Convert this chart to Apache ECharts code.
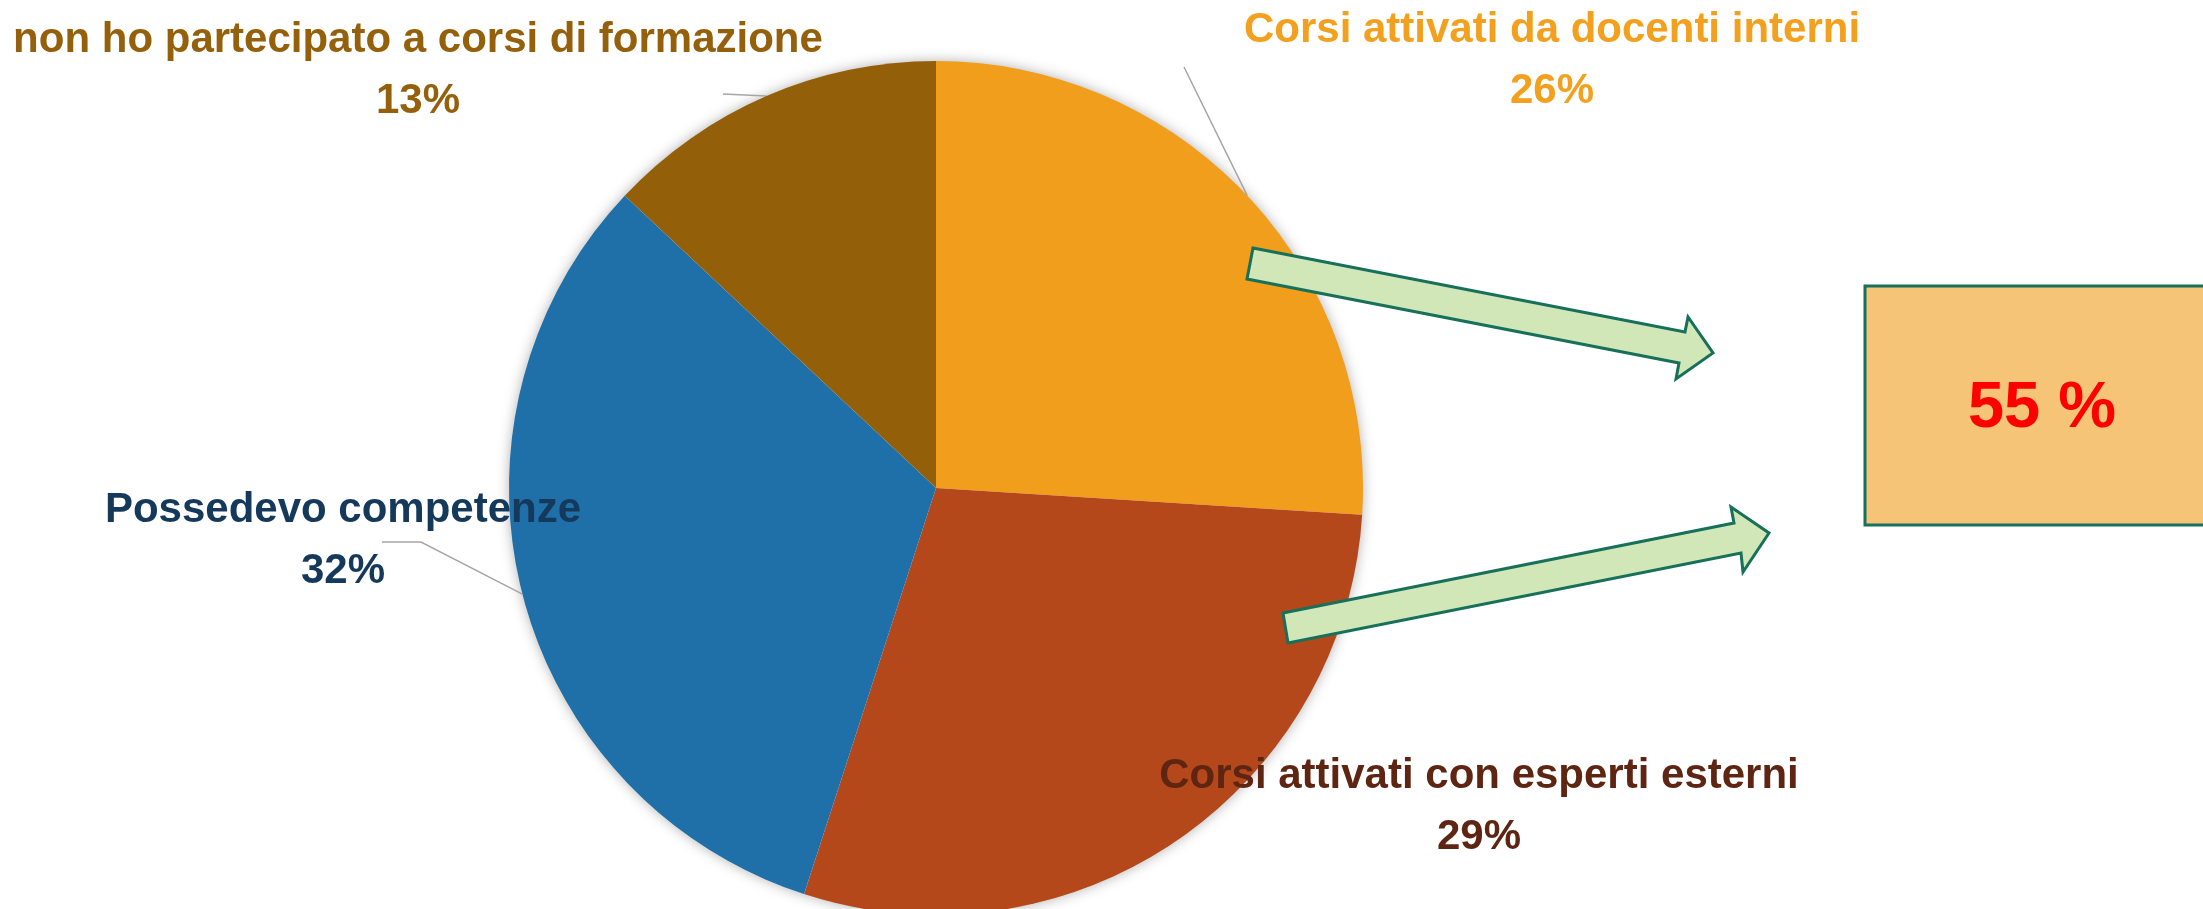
<!DOCTYPE html>
<html lang="it">
<head>
    <meta charset="UTF-8">
    <title>Formazione</title>
    <style>
        html, body { margin: 0; padding: 0; background: #fff; }
        #main { width: 2203px; height: 909px; }
    </style>
</head>
<body>
<div id="main"></div>
<script src="https://cdn.jsdelivr.net/npm/echarts@6/dist/echarts.min.js"></script>
<script>
    // dati
    const categories = [
        'Corsi attivati da docenti interni',
        'Corsi attivati con esperti esterni',
        'Possedevo competenze',
        'non ho partecipato a corsi di formazione'
    ];
    const values = [26, 29, 32, 13];
    const sliceColors = ['#F09E1B', '#B5481A', '#1F6FA9', '#945F09'];
    const labelColors = ['#F2A01E', '#5E2612', '#15395B', '#95600B'];

    // posizione etichette (centro) e punti delle linee guida
    const labelCenters = [[1552, 61], [1479, 807], [343, 541], [418, 71]];
    const leaderEnds = [[[1184, 67]], null, [[421, 542], [382, 542]], [[723, 94]]];

    const FONT = "'Liberation Sans', Arial, sans-serif";
    const CX = 936, CY = 488, R = 427;

    const dom = document.getElementById('main');
    const myChart = echarts.init(dom, null, {renderer: 'canvas'});

    const total = values.reduce((a, b) => a + b, 0);
    // punto sul bordo a metà fetta (partenza dall'alto, senso orario)
    function edgePoint(i) {
        let cum = 0;
        for (let k = 0; k < i; k++) cum += values[k];
        const a = (cum + values[i] / 2) / total * Math.PI * 2;
        return [CX + R * Math.sin(a), CY - R * Math.cos(a)];
    }

    const data = categories.map((name, i) => ({
        name: name,
        value: values[i],
        itemStyle: {color: sliceColors[i]},
        label: {color: labelColors[i]},
        labelLine: {show: leaderEnds[i] !== null}
    }));

    const arrowStyle = {fill: '#D1E7B8', stroke: '#17705A', lineWidth: 3, lineJoin: 'miter'};

    const option = {
        backgroundColor: '#fff',
        animation: false,
        graphic: [
            {
                type: 'circle', z: 0,
                shape: {cx: CX, cy: CY, r: R - 1},
                style: {fill: '#fff', shadowBlur: 14, shadowColor: 'rgba(0,0,0,0.35)'}
            },
            {
                type: 'polygon', z: 20,
                shape: {points: [[1253, 248], [1685, 332], [1688, 317], [1713, 353], [1676, 379], [1679, 363], [1247, 279]]},
                style: arrowStyle
            },
            {
                type: 'polygon', z: 20,
                shape: {points: [[1283, 613], [1734, 523], [1731, 507], [1769, 533], [1743, 572], [1741, 553], [1288, 643]]},
                style: arrowStyle
            },
            {
                type: 'rect', z: 20,
                shape: {x: 1865, y: 286, width: 400, height: 239},
                style: {fill: '#F5C476', stroke: '#17705A', lineWidth: 3}
            },
            {
                type: 'text', z: 21,
                x: 2042, y: 409,
                style: {
                    text: (values[0] + values[1]) + ' %',
                    fill: '#FF0000',
                    font: 'bold 65px ' + FONT,
                    align: 'center',
                    verticalAlign: 'middle'
                }
            }
        ],
        series: [{
            type: 'pie',
            z: 5,
            center: [CX, CY],
            radius: R,
            startAngle: 90,
            clockwise: true,
            avoidLabelOverlap: false,
            data: data,
            itemStyle: {borderWidth: 0},
            label: {
                show: true,
                position: 'outside',
                fontFamily: FONT,
                fontWeight: 'bold',
                fontSize: 42,
                lineHeight: 61,
                align: 'center',
                formatter: p => p.name + '\n' + Math.round(p.percent) + '%'
            },
            labelLine: {
                show: true,
                lineStyle: {color: '#A6A6A6', width: 1.5}
            },
            labelLayout: function (params) {
                const i = params.dataIndex;
                const c = labelCenters[i];
                const out = {x: c[0], y: c[1], align: 'center', verticalAlign: 'middle'};
                if (leaderEnds[i]) {
                    const pts = [edgePoint(i)].concat(leaderEnds[i]);
                    if (pts.length < 3) pts.push(pts[pts.length - 1]);
                    out.labelLinePoints = pts;
                }
                return out;
            },
            emphasis: {disabled: true}
        }]
    };

    myChart.setOption(option);
</script>
</body>
</html>
